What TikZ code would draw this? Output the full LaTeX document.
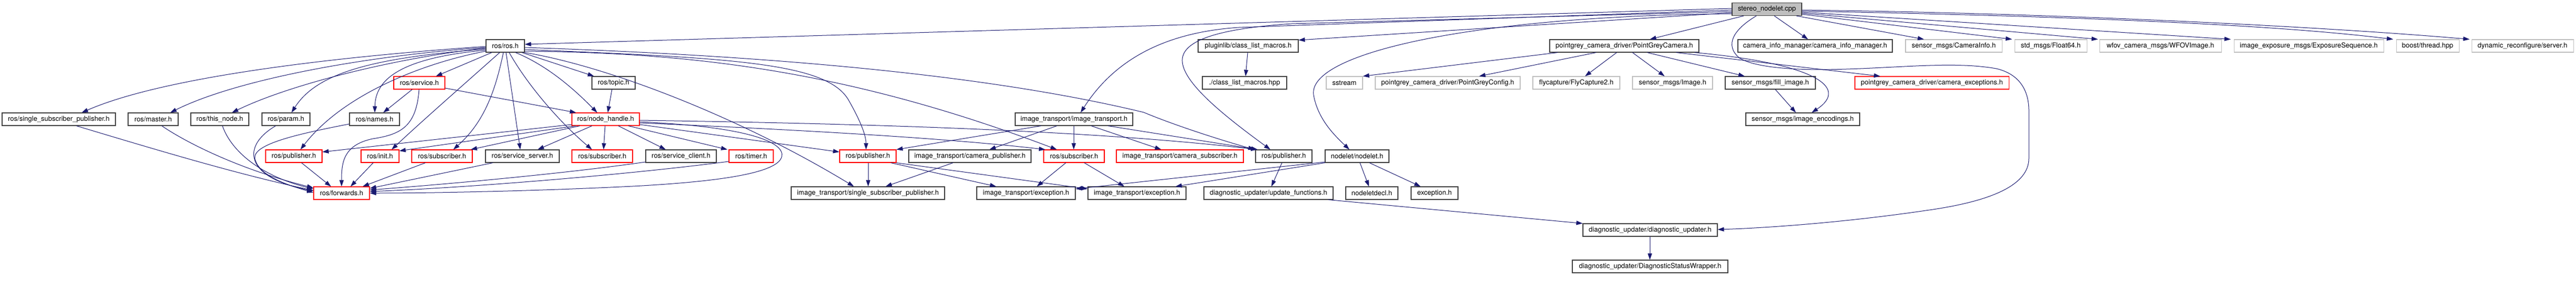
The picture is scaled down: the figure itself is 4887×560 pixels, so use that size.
\documentclass[tikz,border=0pt]{standalone}
\usepackage{fontspec}
\setmainfont{TeX Gyre Heros}
\usetikzlibrary{arrows.meta}
\definecolor{edgec}{HTML}{191970}
\definecolor{grayb}{HTML}{BFBFBF}
\definecolor{darkb}{HTML}{404040}
\definecolor{redb}{HTML}{FF0000}
\tikzset{
  box/.style={draw=darkb, line width=1.1pt, rectangle, minimum height=24pt, inner sep=0pt, fill=white, font=\fontsize{13}{15}\selectfont},
  redbox/.style={box, draw=redb},
  graybox/.style={box, draw=grayb},
  mainbox/.style={box, fill=grayb},
  e/.style={draw=edgec, line width=1pt, -{Triangle[length=12pt,width=8pt]}}
}
\begin{document}
\begin{tikzpicture}[x=1pt,y=-1pt]
\fill[white] (0,0) rectangle (4887,560);
\useasboundingbox (0,0) rectangle (4887,560);
% row 0
\node[mainbox, minimum width=132pt] (main) at (3352,17.5) {stereo\_nodelet.cpp};
% row 1
\node[box, minimum width=73pt] (rosh) at (958.5,87) {ros/ros.h};
\node[box, minimum width=190pt] (plug) at (2368,87) {pluginlib/class\_list\_macros.h};
\node[box, minimum width=283pt] (pgc) at (3081.5,87) {pointgrey\_camera\_driver/PointGreyCamera.h};
\node[box, minimum width=293pt] (cim) at (3443.5,87) {camera\_info\_manager/camera\_info\_manager.h};
\node[graybox, minimum width=183pt] (cinfo) at (3706.5,87) {sensor\_msgs/CameraInfo.h};
\node[graybox, minimum width=137pt] (f64) at (3890.5,87) {std\_msgs/Float64.h};
\node[graybox, minimum width=231pt] (wfov) at (4098.5,87) {wfov\_camera\_msgs/WFOVImage.h};
\node[graybox, minimum width=284pt] (expo) at (4380,87) {image\_exposure\_msgs/ExposureSequence.h};
\node[graybox, minimum width=119pt] (bthread) at (4605.5,87) {boost/thread.hpp};
\node[graybox, minimum width=193pt] (dyn) at (4785.5,87) {dynamic\_reconfigure/server.h};
% row 2
\node[redbox, minimum width=97pt] (service) at (795.5,157) {ros/service.h};
\node[box, minimum width=82pt] (topic) at (1164,157) {ros/topic.h};
\node[box, minimum width=160pt] (clm) at (2361,157) {./class\_list\_macros.hpp};
\node[graybox, minimum width=69pt] (sstream) at (2550.5,157) {sstream};
\node[graybox, minimum width=275pt] (pgconf) at (2746.5,157) {pointgrey\_camera\_driver/PointGreyConfig.h};
\node[graybox, minimum width=165pt] (fly) at (2990.5,157) {flycapture/FlyCapture2.h};
\node[graybox, minimum width=152pt] (img) at (3173,157) {sensor\_msgs/Image.h};
\node[box, minimum width=171pt] (fill) at (3358.5,157) {sensor\_msgs/fill\_image.h};
\node[redbox, minimum width=292pt] (cexc) at (3665,157) {pointgrey\_camera\_driver/camera\_exceptions.h};
% row 3
\node[box, minimum width=215pt] (rssp) at (111.5,226) {ros/single\_subscriber\_publisher.h};
\node[box, minimum width=95pt] (master) at (290.5,226) {ros/master.h};
\node[box, minimum width=110pt] (thisnode) at (417,226) {ros/this\_node.h};
\node[box, minimum width=91pt] (param) at (542.5,226) {ros/param.h};
\node[box, minimum width=95pt] (names) at (710.5,226) {ros/names.h};
\node[redbox, minimum width=128pt] (nh) at (1149,226) {ros/node\_handle.h};
\node[box, minimum width=223pt] (it) at (2037.5,226) {image\_transport/image\_transport.h};
\node[box, minimum width=216pt] (enc) at (3420,226) {sensor\_msgs/image\_encodings.h};
% row 4
\node[redbox, minimum width=107pt] (pub1) at (557.5,296) {ros/publisher.h};
\node[redbox, minimum width=72pt] (init) at (721,296) {ros/init.h};
\node[redbox, minimum width=115pt] (sub1) at (838.5,296) {ros/subscriber.h};
\node[box, minimum width=140pt] (ss) at (991,296) {ros/service\_server.h};
\node[redbox, minimum width=115pt] (sub2) at (1142.5,296) {ros/subscriber.h};
\node[box, minimum width=134pt] (sc) at (1292,296) {ros/service\_client.h};
\node[redbox, minimum width=84pt] (timer) at (1425,296) {ros/timer.h};
\node[redbox, minimum width=107pt] (pub2) at (1646.5,296) {ros/publisher.h};
\node[box, minimum width=232pt] (campub) at (1840,296) {image\_transport/camera\_publisher.h};
\node[redbox, minimum width=115pt] (sub3) at (2037.5,296) {ros/subscriber.h};
\node[redbox, minimum width=241pt] (camsub) at (2238.5,296) {image\_transport/camera\_subscriber.h};
\node[box, minimum width=107pt] (pub3) at (2435.5,296) {ros/publisher.h};
\node[box, minimum width=121pt] (nodelet) at (2574.5,296) {nodelet/nodelet.h};
% row 5
\node[redbox, minimum width=106pt] (fwd) at (648,366) {ros/forwards.h};
\node[box, minimum width=291pt] (itssp) at (1646.5,366) {image\_transport/single\_subscriber\_publisher.h};
\node[box, minimum width=187pt] (exc1) at (1946.5,366) {image\_transport/exception.h};
\node[box, minimum width=186pt] (exc2) at (2157,366) {image\_transport/exception.h};
\node[box, minimum width=245pt] (upf) at (2406.5,366) {diagnostic\_updater/update\_functions.h};
\node[box, minimum width=99pt] (ndecl) at (2602.5,366) {nodeletdecl.h};
\node[box, minimum width=89pt] (exch) at (2721.5,366) {exception.h};
% rows 6-7
\node[box, minimum width=255pt] (diag) at (3130.5,436) {diagnostic\_updater/diagnostic\_updater.h};
\node[box, minimum width=295pt] (dsw) at (3130.5,505) {diagnostic\_updater/DiagnosticStatusWrapper.h};

% ---- edges from stereo_nodelet.cpp
\draw[e] (main.west |- 0,16) -- (rosh.east |- 0,84);
\draw[e] (main.west |- 0,19) -- (2350,52) .. controls (2200,62) and (2110,120) .. (2050,0 |- it.north);
\draw[e] (main.west |- 0,22) -- (2450,45) .. controls (2300,55) and (2240,80) .. (2243,117) .. controls (2246,160) and (2330,225) .. (2410,0 |- pub3.north);
\draw[e] (main.west |- 0,24) -- (plug.east |- 0,76);
\draw[e] (main.west |- 0,26) .. controls (2800,30) and (2480,100) .. (2492,180) .. controls (2500,225) and (2530,255) .. (2560,0 |- nodelet.north);
\draw[e] (3308,0 |- main.south) -- (3130,0 |- pgc.north);
\draw[e] (3366,0 |- main.south) -- (3430,0 |- cim.north);
\draw[e] (3408,0 |- main.south) -- (3650,0 |- cinfo.north);
\draw[e] (main.east |- 0,27) -- (3817,0 |- f64.north);
\draw[e] (main.east |- 0,25) -- (3980,0 |- wfov.north);
\draw[e] (main.east |- 0,23) -- (4232,0 |- expo.north);
\draw[e] (main.east |- 0,21) .. controls (3900,30) and (4300,45) .. (4540,0 |- bthread.north);
\draw[e] (main.east |- 0,19) .. controls (3900,25) and (4400,50) .. (4685,0 |- dyn.north);
\draw[e] (3332,0 |- main.south) .. controls (3290,55) and (3270,85) .. (3300,110) .. controls (3330,128) and (3400,132) .. (3460,132) .. controls (3600,130) and (3700,115) .. (3787,130) .. controls (3830,140) and (3849,170) .. (3849,210) -- (3849,300) .. controls (3849,350) and (3780,380) .. (3667,397) .. controls (3500,422) and (3350,432) .. (diag.east |- 0,435);

% ---- PointGreyCamera.h
\draw[e] (2955,0 |- pgc.south) -- (sstream.north east);
\draw[e] (3028,0 |- pgc.south) -- (2806,0 |- pgconf.north);
\draw[e] (3067,0 |- pgc.south) -- (3007,0 |- fly.north);
\draw[e] (3097,0 |- pgc.south) -- (3158,0 |- img.north);
\draw[e] (3125,0 |- pgc.south) -- (3310,0 |- fill.north);
\draw[e] (3180,0 |- pgc.south) -- (3567,0 |- cexc.north);
\draw[e] (3215,0 |- pgc.south) .. controls (3440,120) and (3510,165) .. (3437,0 |- enc.north);
\draw[e] (3368,0 |- fill.south) -- (3407,0 |- enc.north);
\draw[e] (2367,0 |- plug.south) -- (2363,0 |- clm.north);

% ---- ros/ros.h
\draw[e] (rosh.west |- 0,88) .. controls (600,110) and (300,150) .. (155,0 |- rssp.north);
\draw[e] (rosh.west |- 0,90) .. controls (700,105) and (450,150) .. (323,0 |- master.north);
\draw[e] (rosh.west |- 0,91) .. controls (750,110) and (550,160) .. (440,0 |- thisnode.north);
\draw[e] (rosh.west |- 0,93) .. controls (700,110) and (600,140) .. (553,0 |- param.north);
\draw[e] (rosh.west |- 0,95) .. controls (760,110) and (712,150) .. (711,0 |- names.north);
\draw[e] (rosh.west |- 0,97) .. controls (800,120) and (650,180) .. (570,0 |- pub1.north);
\draw[e] (933,0 |- rosh.south) -- (827,0 |- service.north);
\draw[e] (948,0 |- rosh.south) .. controls (880,160) and (800,230) .. (743,0 |- init.north);
\draw[e] (955,0 |- rosh.south) .. controls (940,170) and (920,230) .. (860,0 |- sub1.north);
\draw[e] (960,0 |- rosh.south) -- (987,0 |- ss.north);
\draw[e] (966,0 |- rosh.south) .. controls (1000,160) and (1060,230) .. (1123,0 |- sub2.north);
\draw[e] (978,0 |- rosh.south) .. controls (1040,125) and (1090,170) .. (1133,0 |- nh.north);
\draw[e] (990,0 |- rosh.south) -- (1127,0 |- topic.north);
\draw[e] (rosh.east |- 0,90) .. controls (1600,110) and (1950,160) .. (2170,213) .. controls (2210,230) and (2290,258) .. (2380,0 |- pub3.north);
\draw[e] (rosh.east |- 0,94) .. controls (1400,110) and (1570,120) .. (1610,190) .. controls (1630,225) and (1643,255) .. (1643,0 |- pub2.north);
\draw[e] (rosh.east |- 0,97) .. controls (1300,100) and (1600,130) .. (2005,0 |- sub3.north);
\draw[e] (rosh.south east) .. controls (1150,125) and (1400,220) .. (1620,0 |- itssp.north);

% ---- ros/node_handle.h
\draw[e] (1148,0 |- nh.south) -- (1145,0 |- sub2.north);
\draw[e] (1123,0 |- nh.south) -- (1020,0 |- ss.north);
\draw[e] (1100,0 |- nh.south) -- (893,0 |- sub1.north);
\draw[e] (nh.west |- 0,236) -- (pub1.east |- 0,288);
\draw[e] (1092,0 |- nh.south) -- (init.east |- 0,286);
\draw[e] (1173,0 |- nh.south) -- (1263,0 |- sc.north);
\draw[e] (1192,0 |- nh.south) -- (1380,0 |- timer.north);
\draw[e] (nh.east |- 0,236) -- (pub2.west |- 0,288);
\draw[e] (nh.east |- 0,233) .. controls (1500,245) and (1800,262) .. (1983,0 |- sub3.north);
\draw[e] (nh.east |- 0,228) .. controls (1700,235) and (2100,250) .. (2385,0 |- pub3.north);
\draw[e] (nh.east |- 0,231) .. controls (1420,240) and (1490,270) .. (1483,297) .. controls (1475,330) and (1350,345) .. (1200,353) .. controls (1000,363) and (800,366) .. (fwd.east |- 0,366);
\draw[e] (1161,0 |- topic.south) -- (1153,0 |- nh.north);
\draw[e] (service.east |- 0,167) -- (1093,0 |- nh.north);
\draw[e] (782,0 |- service.south) -- (727,0 |- names.north);
\draw[e] (795,0 |- service.south) .. controls (790,240) and (760,255) .. (707,263) .. controls (650,275) and (648,310) .. (648,0 |- fwd.north);

% ---- into ros/forwards.h
\draw[e] (145,0 |- rssp.south) .. controls (300,285) and (450,330) .. (fwd.west |- 0,361);
\draw[e] (307,0 |- master.south) .. controls (350,268) and (450,320) .. (fwd.west |- 0,356);
\draw[e] (422,0 |- thisnode.south) .. controls (440,290) and (500,335) .. (fwd.west |- 0,358);
\draw[e] (523,0 |- param.south) .. controls (460,275) and (460,335) .. (fwd.west |- 0,362);
\draw[e] (names.west |- 0,235) .. controls (560,255) and (470,275) .. (485,305) .. controls (495,335) and (550,352) .. (fwd.west |- 0,365);
\draw[e] (572,0 |- pub1.south) -- (628,0 |- fwd.north);
\draw[e] (708,0 |- init.south) -- (665,0 |- fwd.north);
\draw[e] (807,0 |- sub1.south) -- (688,0 |- fwd.north);
\draw[e] (935,0 |- ss.south) -- (fwd.east |- 0,357);
\draw[e] (sc.west |- 0,307) .. controls (1100,325) and (900,345) .. (fwd.east |- 0,360);
\draw[e] (timer.west |- 0,306) .. controls (1200,330) and (900,355) .. (fwd.east |- 0,363);

% ---- image_transport.h and lower right
\draw[e] (1975,0 |- it.south) -- (pub2.north east);
\draw[e] (2005,0 |- it.south) -- (1877,0 |- campub.north);
\draw[e] (2037,0 |- it.south) -- (2037,0 |- sub3.north);
\draw[e] (2070,0 |- it.south) -- (2203,0 |- camsub.north);
\draw[e] (2102,0 |- it.south) -- (2386,0 |- pub3.north);
\draw[e] (1647,0 |- pub2.south) -- (1647,0 |- itssp.north);
\draw[e] (1808,0 |- campub.south) -- (1680,0 |- itssp.north);
\draw[e] (1690,0 |- pub2.south) -- (1890,0 |- exc1.north);
\draw[e] (pub2.south east) -- (exc2.west |- 0,358);
\draw[e] (2022,0 |- sub3.south) -- (1967,0 |- exc1.north);
\draw[e] (2057,0 |- sub3.south) -- (2133,0 |- exc2.north);
\draw[e] (nodelet.west |- 0,307) -- (exc1.east |- 0,358);
\draw[e] (nodelet.south west) -- (2230,0 |- exc2.north);
\draw[e] (2432,0 |- pub3.south) -- (2412,0 |- upf.north);
\draw[e] (2580,0 |- nodelet.south) -- (2597,0 |- ndecl.north);
\draw[e] (2598,0 |- nodelet.south) -- (2695,0 |- exch.north);
\draw[e] (2520,0 |- upf.south) -- (diag.north west);
\draw[e] (3130,0 |- diag.south) -- (3130,0 |- dsw.north);
\end{tikzpicture}
\end{document}
